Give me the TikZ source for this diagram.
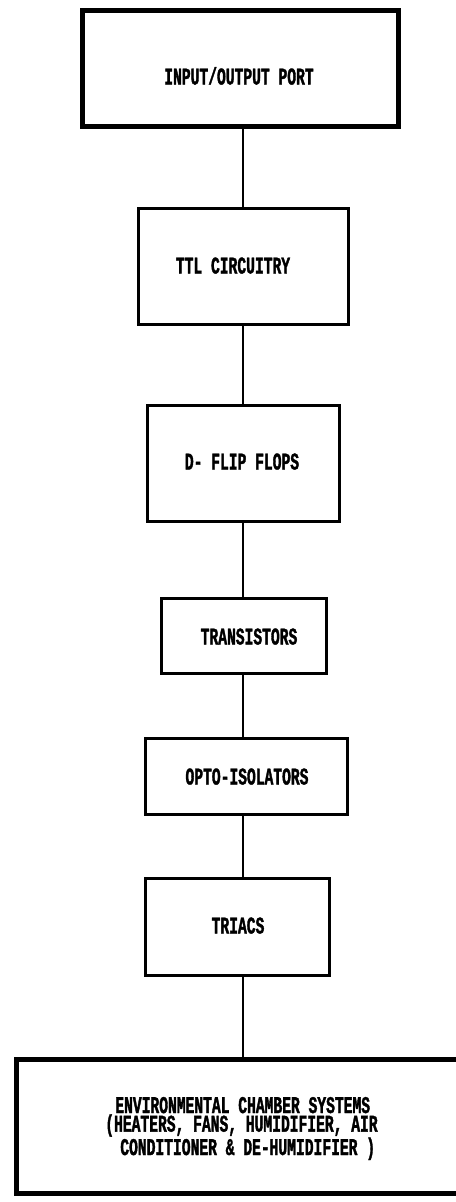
\documentclass[tikz,border=0pt]{standalone}
\usepackage{fontspec}
\newfontfamily\typefont{Liberation Mono}[FakeStretch=0.61, FakeBold=1.5]
\begin{document}
\begin{tikzpicture}[x=1bp,y=-1bp,
  blk/.style={draw=black, line width=3bp, rectangle, inner sep=0pt},
  heavy/.style={blk, line width=5bp},
  lbl/.style={font=\typefont\bfseries\fontsize{24bp}{15.5bp}\selectfont, inner sep=0pt, text height=13bp, text depth=0pt},
  wire/.style={line width=1.3bp}]
\useasboundingbox (0,0) rectangle (456,1202);
\clip (0,0) rectangle (456,1202);
\fill[white] (0,0) rectangle (456,1202);
% boxes
\node[heavy, minimum width=316bp, minimum height=116bp] (b1) at (240.5,68.5) {};
\node[blk,   minimum width=210bp, minimum height=116bp] (b2) at (243.5,266.5) {};
\node[blk,   minimum width=192bp, minimum height=116bp] (b3) at (243.5,463.5) {};
\node[blk,   minimum width=165bp, minimum height=75bp]  (b4) at (244,636) {};
\node[blk,   minimum width=202bp, minimum height=76bp]  (b5) at (246.5,776.5) {};
\node[blk,   minimum width=184bp, minimum height=97bp]  (b6) at (237.5,927) {};
\node[heavy, minimum width=451bp, minimum height=134bp] (b7) at (242,1126.5) {};
% labels
\node[lbl] (t1) at (239,78) {INPUT/OUTPUT PORT};
\node[lbl] (t2) at (233,267) {TTL CIRCUITRY};
\node[lbl] (t3) at (242,463) {D- FLIP FLOPS};
\node[lbl] (t4) at (249,638) {TRANSISTORS};
\node[lbl] (t5) at (247,778) {OPTO-ISOLATORS};
\node[lbl] (t6) at (238,927) {TRIACS};
\node[lbl, align=left, text height=, text depth=] (t7) at (241.5,1128.5)
  {\hspace*{10bp}ENVIRONMENTAL CHAMBER SYSTEMS\\
   (HEATERS, FANS, HUMIDIFIER, AIR\\
   \hspace*{15bp}CONDITIONER \& DE-HUMIDIFIER )};
% connectors
\coordinate (spine) at (243,0);
\draw[wire] (b1.south -| spine) -- (b2.north -| spine);
\draw[wire] (b2.south -| spine) -- (b3.north -| spine);
\draw[wire] (b3.south -| spine) -- (b4.north -| spine);
\draw[wire] (b4.south -| spine) -- (b5.north -| spine);
\draw[wire] (b5.south -| spine) -- (b6.north -| spine);
\draw[wire] (b6.south -| spine) -- (b7.north -| spine);
\end{tikzpicture}
\end{document}
